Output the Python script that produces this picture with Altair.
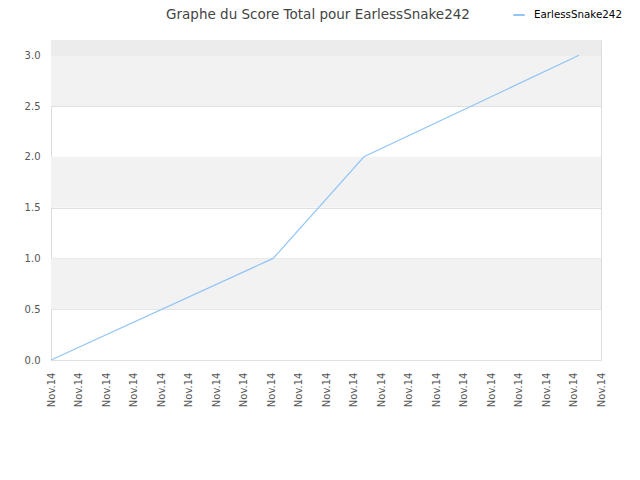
import altair as alt
import pandas as pd

# series
x_vals = [0, 8.08, 11.38, 19.2]
scores = [0, 1, 2, 3]
series_name = "EarlessSnake242"
tick_positions = list(range(0, 21))
tick_label = "Nov.14"
chart_title = "Graphe du Score Total pour EarlessSnake242"

# background bands
band_lo = [0.5, 1.5, 2.5, 3.0]
band_hi = [1.0, 2.0, 3.0, 3.15]
band_kind = ["a", "a", "a", "b"]

line_df = pd.DataFrame({"x": x_vals, "score": scores, "serie": [series_name] * len(x_vals)})
band_df = pd.DataFrame({"lo": band_lo, "hi": band_hi, "kind": band_kind})
title_df = pd.DataFrame({"t": [chart_title]})

FONT = "DejaVu Sans"
xscale = alt.Scale(domain=[0, 20], nice=False, zero=False)
yscale = alt.Scale(domain=[0, 3.15], nice=False)

bands = alt.Chart(band_df).mark_rect().encode(
    x=alt.value(0),
    x2=alt.value(550),
    y=alt.Y("lo:Q", scale=yscale),
    y2="hi:Q",
    color=alt.Color("kind:N", scale=alt.Scale(domain=["a", "b"], range=["#f2f2f2", "#ececec"]), legend=None),
)

line = alt.Chart(line_df).mark_line(strokeWidth=1.2).encode(
    x=alt.X(
        "x:Q",
        scale=xscale,
        axis=alt.Axis(
            title=None,
            values=tick_positions,
            labelExpr=f"'{tick_label}'",
            labelAngle=270,
            labelAlign="right",
            labelBaseline="middle",
            labelPadding=12,
            ticks=False,
            grid=False,
            domain=False,
            labelFont=FONT,
            labelFontSize=10,
            labelColor="#555555",
        ),
    ),
    y=alt.Y(
        "score:Q",
        scale=yscale,
        axis=alt.Axis(
            title=None,
            values=[0, 0.5, 1.0, 1.5, 2.0, 2.5, 3.0],
            format=".1f",
            ticks=False,
            domain=False,
            grid=True,
            gridColor="#e0e0e0",
            labelPadding=11,
            labelFont=FONT,
            labelFontSize=10,
            labelColor="#555555",
        ),
    ),
    color=alt.Color(
        "serie:N",
        scale=alt.Scale(domain=[series_name], range=["#92c5f6"]),
        legend=alt.Legend(
            title=None,
            orient="none",
            legendX=461,
            legendY=-32,
            symbolType="stroke",
            symbolSize=130,
            symbolStrokeWidth=2,
            labelFont=FONT,
            labelFontSize=10.3,
            labelColor="#000000",
            labelOffset=8,
        ),
    ),
)

title_mark = alt.Chart(title_df).mark_text(
    font=FONT, fontSize=13.5, color="#444444", align="center", baseline="alphabetic"
).encode(x=alt.value(267), y=alt.value(-21), text="t:N")

chart = (
    alt.layer(bands, line, title_mark)
    .resolve_scale(color="independent")
    .properties(
        width=550,
        height=320,
        autosize=alt.AutoSizeParams(type="none"),
        padding={"left": 43, "top": 32, "right": 30, "bottom": 110},
    )
    .configure_view(stroke="#d9d9d9")
    .configure(background="white")
)

chart.save("out.html", embed_options={"renderer": "svg", "actions": False})
